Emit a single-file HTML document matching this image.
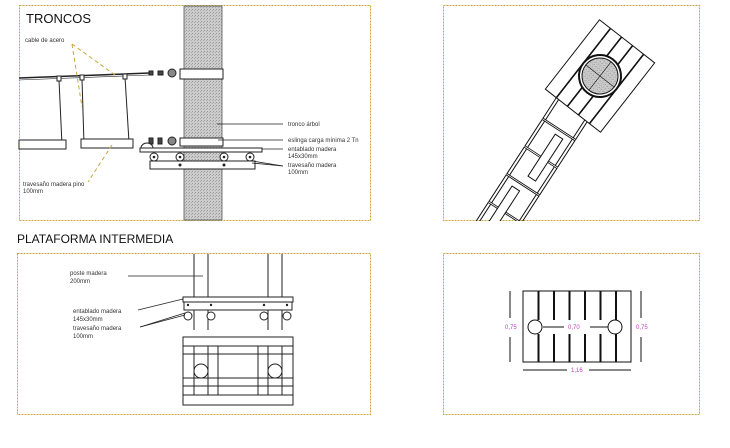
<!DOCTYPE html>
<html><head><meta charset="utf-8"><style>
body{margin:0;background:#fff;width:730px;height:448px;overflow:hidden}
svg{display:block}
text{font-family:"Liberation Sans",sans-serif;fill:#333}
.s{font-size:6px}
</style></head><body>
<svg width="730" height="448" viewBox="0 0 730 448" xmlns="http://www.w3.org/2000/svg">
<defs>
<pattern id="g" width="3" height="3" patternUnits="userSpaceOnUse"><rect width="3" height="3" fill="#ccc"/><rect width="1" height="1" fill="#999"/><rect x="2" y="1" width="1" height="1" fill="#aaa"/></pattern>
<clipPath id="c3"><rect x="443" y="5" width="257" height="216"/></clipPath>
</defs>
<g fill="none" stroke="#c9a53f" stroke-width="1" stroke-dasharray="2 1">
<rect x="19.5" y="5.5" width="351" height="215"/>
<rect x="17.5" y="253.5" width="353" height="161"/>
<rect x="443.5" y="5.5" width="256" height="215"/>
<rect x="443.5" y="253.5" width="256" height="161"/>
</g>
<!-- Panel 1 -->
<text x="26" y="23" font-size="13" style="fill:#111">TRONCOS</text>
<rect x="184" y="6" width="38" height="214" fill="url(#g)" stroke="#555" stroke-width="0.8"/>
<g stroke="#222" stroke-width="1" fill="#fff">
<line x1="19" y1="78" x2="150" y2="73" stroke-width="1.5"/>
<line x1="19" y1="80" x2="150" y2="75" stroke-width="0.6"/>
<rect x="149" y="71" width="4" height="4" fill="#444"/><rect x="158" y="71" width="5" height="4" fill="#444"/>
<circle cx="172" cy="73" r="4" fill="#888"/>
<rect x="180" y="69" width="43" height="10"/>
<line x1="59" y1="80" x2="62" y2="145"/><line x1="82" y1="79" x2="84" y2="144"/><line x1="125" y1="77" x2="129" y2="142"/>
<rect x="57" y="76" width="4" height="5"/><rect x="80" y="75" width="4" height="5"/><rect x="123" y="74" width="4" height="5"/>
<rect x="19" y="140" width="47" height="9"/>
<rect x="81" y="139" width="52" height="9"/>
<rect x="149" y="138" width="4" height="6" fill="#444"/><rect x="158" y="138" width="4" height="6" fill="#444"/>
<circle cx="172" cy="141" r="4" fill="#888"/>
<rect x="180" y="138" width="43" height="8"/>
<path d="M141 148 a6 5 0 0 1 12 0"/>
<rect x="140" y="148" width="122" height="4"/>
<rect x="150" y="161" width="105" height="8"/>
<circle cx="154" cy="157" r="4"/><circle cx="180" cy="157" r="4"/><circle cx="224" cy="157" r="4"/><circle cx="250" cy="157" r="4"/>
</g>
<g fill="#222"><circle cx="154" cy="157" r="1.3"/><circle cx="180" cy="157" r="1.3"/><circle cx="224" cy="157" r="1.3"/><circle cx="250" cy="157" r="1.3"/><circle cx="180" cy="165" r="1.5"/><circle cx="224" cy="165" r="1.5"/></g>
<g stroke="#c9a53f" stroke-dasharray="4 3" fill="none" stroke-width="1"><path d="M72 44 L115 75"/><path d="M72 44 L82 107"/><path d="M112 145 L88 182"/></g>
<g stroke="#222" stroke-width="0.8"><line x1="217" y1="124" x2="283" y2="124"/><line x1="218" y1="140" x2="283" y2="140"/><line x1="262" y1="149" x2="283" y2="149"/><line x1="252" y1="161" x2="283" y2="166"/><line x1="252" y1="163" x2="283" y2="166"/></g>
<text class="s" x="25" y="42">cable de acero</text>
<text class="s" x="288" y="126">tronco árbol</text>
<text class="s" x="288" y="142">eslinga carga mínima 2 Tn</text>
<text class="s" x="288" y="151">entablado madera</text><text class="s" x="288" y="158">145x30mm</text>
<text class="s" x="288" y="167">travesaño madera</text><text class="s" x="288" y="174">100mm</text>
<text class="s" x="23" y="186">travesaño madera pino</text><text class="s" x="23" y="193">100mm</text>
<!-- Panel 2 -->
<text x="17" y="243" font-size="12" style="fill:#111">PLATAFORMA INTERMEDIA</text>
<g stroke="#222" stroke-width="1" fill="#fff">
<line x1="194" y1="254" x2="194" y2="330"/><line x1="208" y1="254" x2="208" y2="330"/>
<line x1="268" y1="254" x2="268" y2="330"/><line x1="282" y1="254" x2="282" y2="330"/>
<rect x="183" y="297" width="110" height="5"/>
<rect x="184" y="302" width="108" height="8"/>
<circle cx="188" cy="316" r="4"/><circle cx="211" cy="316" r="4"/><circle cx="264" cy="316" r="4"/><circle cx="287" cy="316" r="4"/>
<rect x="183" y="337" width="110" height="68"/>
<line x1="183" y1="346" x2="293" y2="346"/><line x1="183" y1="354" x2="293" y2="354"/>
<line x1="183" y1="378" x2="293" y2="378"/><line x1="183" y1="386" x2="293" y2="386"/><line x1="183" y1="395" x2="293" y2="395"/>
<line x1="194" y1="346" x2="194" y2="395"/><line x1="208" y1="346" x2="208" y2="395"/><line x1="218" y1="346" x2="218" y2="395"/>
<line x1="258" y1="346" x2="258" y2="395"/><line x1="268" y1="346" x2="268" y2="395"/><line x1="282" y1="346" x2="282" y2="395"/>
<circle cx="201" cy="371" r="7"/><circle cx="275" cy="371" r="7"/>
</g>
<g fill="#222"><circle cx="188" cy="305" r="1.2"/><circle cx="211" cy="305" r="1.2"/><circle cx="264" cy="305" r="1.2"/><circle cx="287" cy="305" r="1.2"/></g>
<g stroke="#222" stroke-width="0.8"><line x1="128" y1="276" x2="203" y2="276"/><line x1="138" y1="310" x2="183" y2="299"/><line x1="140" y1="327" x2="185" y2="313"/><line x1="140" y1="327" x2="185" y2="315"/></g>
<text class="s" x="70" y="275">poste madera</text><text class="s" x="70" y="283">200mm</text>
<text class="s" x="73" y="313">entablado madera</text><text class="s" x="73" y="321">145x30mm</text>
<text class="s" x="73" y="330">travesaño madera</text><text class="s" x="73" y="338">100mm</text>
<!-- Panel 3 -->
<g clip-path="url(#c3)" stroke="#111" fill="#fff" stroke-width="1">
<g transform="translate(560,92) rotate(33)">
<line x1="0" y1="0" x2="0" y2="170"/><line x1="3" y1="0" x2="3" y2="170"/>
<line x1="36" y1="0" x2="36" y2="170"/><line x1="39" y1="0" x2="39" y2="170"/>
<line x1="0" y1="32" x2="39" y2="32" stroke-width="2.5"/><line x1="0" y1="65" x2="39" y2="65" stroke-width="2.5"/>
<line x1="0" y1="98" x2="39" y2="98" stroke-width="2.5"/><line x1="0" y1="131" x2="39" y2="131" stroke-width="2.5"/>
<line x1="0" y1="32" x2="39" y2="32" stroke="#fff" stroke-width="0.8"/><line x1="0" y1="65" x2="39" y2="65" stroke="#fff" stroke-width="0.8"/>
<line x1="0" y1="98" x2="39" y2="98" stroke="#fff" stroke-width="0.8"/><line x1="0" y1="131" x2="39" y2="131" stroke="#fff" stroke-width="0.8"/>
<rect x="19" y="38" width="9" height="50"/>
<rect x="11" y="105" width="9" height="50"/>
</g>
<g transform="translate(600,76) rotate(38)">
<rect x="-35" y="-44" width="70" height="88"/>
<line x1="-21" y1="-44" x2="-21" y2="44" stroke-width="1.6"/><line x1="-7" y1="-44" x2="-7" y2="44" stroke-width="1.6"/>
<line x1="7" y1="-44" x2="7" y2="44" stroke-width="1.6"/><line x1="21" y1="-44" x2="21" y2="44" stroke-width="1.6"/>
<circle cx="0" cy="0" r="21" stroke-width="2"/>
<circle cx="0" cy="0" r="18" fill="url(#g)"/>
<line x1="-18" y1="0" x2="18" y2="0" stroke-width="0.6"/><line x1="0" y1="-18" x2="0" y2="18" stroke-width="0.6"/>
</g>
</g>
<!-- Panel 4 -->
<g stroke="#111" fill="#fff" stroke-width="1">
<rect x="523" y="291" width="108" height="71"/>
<line x1="538.5" y1="291" x2="538.5" y2="362" stroke-width="2"/><line x1="554" y1="291" x2="554" y2="362" stroke-width="2"/>
<line x1="569.5" y1="291" x2="569.5" y2="362" stroke-width="2"/><line x1="585" y1="291" x2="585" y2="362" stroke-width="2"/>
<line x1="600.5" y1="291" x2="600.5" y2="362" stroke-width="2"/><line x1="616" y1="291" x2="616" y2="362" stroke-width="2"/>
<rect x="536" y="320" width="70" height="14" stroke="none"/>
<line x1="543" y1="327" x2="564" y2="327"/><line x1="590" y1="327" x2="608" y2="327"/>
<circle cx="535" cy="327" r="7"/><circle cx="615" cy="327" r="7"/>
<line x1="510" y1="291" x2="510" y2="318"/><line x1="510" y1="337" x2="510" y2="362"/>
<line x1="641" y1="291" x2="641" y2="318"/><line x1="641" y1="337" x2="641" y2="362"/>
<line x1="523" y1="370" x2="567" y2="370"/><line x1="589" y1="370" x2="631" y2="370"/>
</g>
<g><text x="505" y="329" style="fill:#c040c0" font-size="6">0,75</text><text x="568" y="329" style="fill:#c040c0" font-size="6">0,70</text><text x="636" y="329" style="fill:#c040c0" font-size="6">0,75</text><text x="571" y="372" style="fill:#c040c0" font-size="6">1,16</text></g>
</svg>
</body></html>
